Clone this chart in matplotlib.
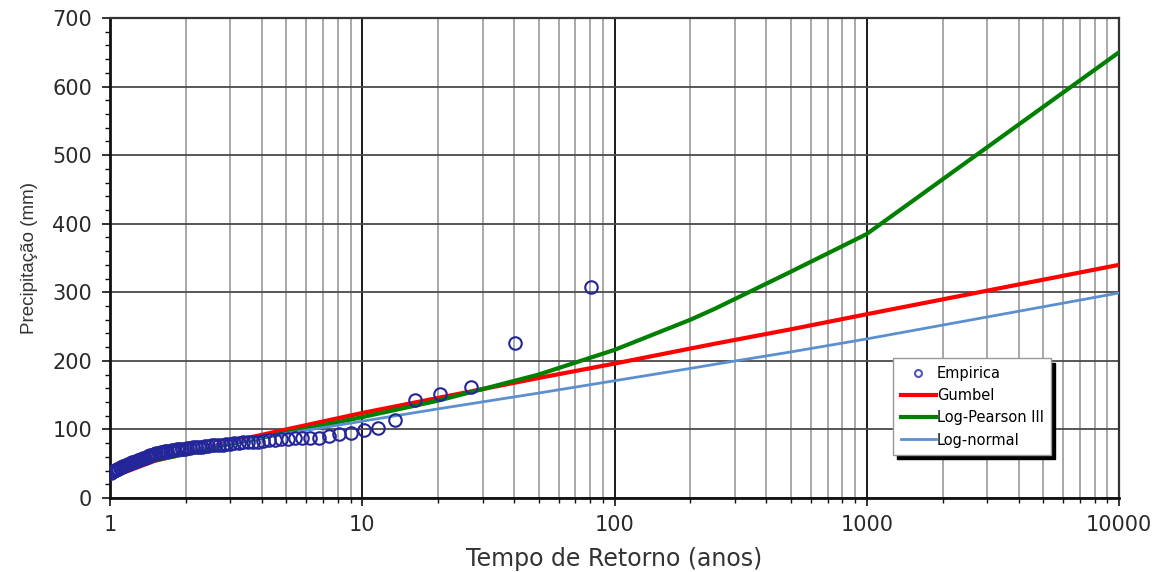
import matplotlib
matplotlib.use("Agg")
import matplotlib.pyplot as plt
from matplotlib.ticker import LogLocator, MultipleLocator, FixedLocator, NullFormatter, FixedFormatter

plt.rcParams['font.family'] = ['DejaVu Sans']

# Empirical data: rank m (1 = largest), return period T = 81/m
emp_rank = list(range(1, 81))
emp_values = [308, 226, 162, 152, 143, 114, 102, 99, 95, 93,
              90, 88, 88, 87, 87, 86, 86, 85, 84, 83,
              82, 82, 81, 81, 80, 80, 79, 79, 78, 78,
              77, 77, 76, 76, 75, 75, 74, 74, 73, 73,
              72, 72, 71, 71, 70, 70, 69, 69, 68, 67,
              67, 66, 65, 64, 63, 62, 61, 60, 59, 58,
              57, 56, 55, 54, 53, 52, 51, 50, 49, 48,
              47, 46, 45, 44, 43, 42, 41, 40, 39, 37]
emp_T = [81.0 / m for m in emp_rank]

# Fitted distributions
fit_T = [1.15, 1.5, 2, 3, 5, 10, 20, 50, 100, 200, 250, 500, 1000, 10000]
gumbel = [38, 54, 65, 82, 100, 124, 146, 175, 196, 218, 225, 246, 268, 340]
log_pearson = [40, 55, 64, 79, 95, 118, 142, 180, 216, 260, 276, 330, 385, 650]
log_normal = [43, 56, 67, 81, 94, 112, 130, 153, 171, 189, 195, 213, 232, 299]

fig = plt.figure(figsize=(11.67, 5.72), dpi=100)
ax = fig.add_axes([110/1167, 1-498/572, 1009/1167, 480/572])

ax.set_xscale('log')
ax.set_xlim(1, 10000)
ax.set_ylim(0, 700)

ax.xaxis.set_major_locator(FixedLocator([1, 10, 100, 1000, 10000]))
ax.xaxis.set_major_formatter(FixedFormatter(['1', '10', '100', '1000', '10000']))
ax.xaxis.set_minor_locator(LogLocator(base=10, subs=range(2, 10), numticks=20))
ax.xaxis.set_minor_formatter(NullFormatter())
ax.yaxis.set_major_locator(MultipleLocator(100))
ax.yaxis.set_minor_locator(MultipleLocator(20))

ax.grid(which='minor', axis='x', color='#9a9a9a', lw=1.2, zorder=0)
ax.grid(which='major', axis='x', color='#1a1a1a', lw=1.4, zorder=0)
ax.grid(which='major', axis='y', color='#4a4a4a', lw=1.3, zorder=0)

ax.plot(emp_T, emp_values, 'o', ms=9, mfc='none', mec='#25259a', mew=1.5,
        label='Empirica', zorder=4)
ax.plot(fit_T, gumbel, color='#ff0000', lw=3, label='Gumbel', zorder=3)
ax.plot(fit_T, log_pearson, color='#008000', lw=3, label='Log-Pearson III', zorder=3)
ax.plot(fit_T, log_normal, color='#5b8fd0', lw=2, label='Log-normal', zorder=3)

for side in ['left', 'bottom']:
    ax.spines[side].set_linewidth(2)
    ax.spines[side].set_color('#111111')
for side in ['top', 'right']:
    ax.spines[side].set_linewidth(1.6)
    ax.spines[side].set_color('#333333')

ax.tick_params(axis='both', which='major', direction='out', length=6, width=1.2,
               labelsize=15, labelcolor='#2a2a2a', color='#111111')
ax.tick_params(axis='both', which='minor', direction='out', length=3.5, width=1,
               color='#111111')
ax.tick_params(axis='x', pad=6)
ax.tick_params(axis='y', pad=7)

ax.set_ylabel('Precipitação (mm)', fontsize=13.5, color='#333333', labelpad=10,
              family='Liberation Sans')
ax.set_xlabel('Tempo de Retorno (anos)', fontsize=17, color='#333333', labelpad=9)

h, l = ax.get_legend_handles_labels()
leg = ax.legend(h, l, loc='upper left', bbox_to_anchor=(0.769, 0.306),
                prop={'family': 'DejaVu Sans', 'size': 10.5},
                frameon=True, fancybox=False, edgecolor='#999999',
                framealpha=1, handlelength=2.4, handletextpad=0.1,
                labelspacing=0.5, borderpad=0.5,
                shadow={'color': 'black', 'alpha': 1.0, 'ox': 3, 'oy': -3})
leg.legend_handles[0].set_markersize(5)
leg.legend_handles[0].set_markeredgecolor('#5555b5')
leg.legend_handles[0].set_markeredgewidth(1.5)
leg.set_zorder(10)

fig.savefig('out.png', dpi=100)
